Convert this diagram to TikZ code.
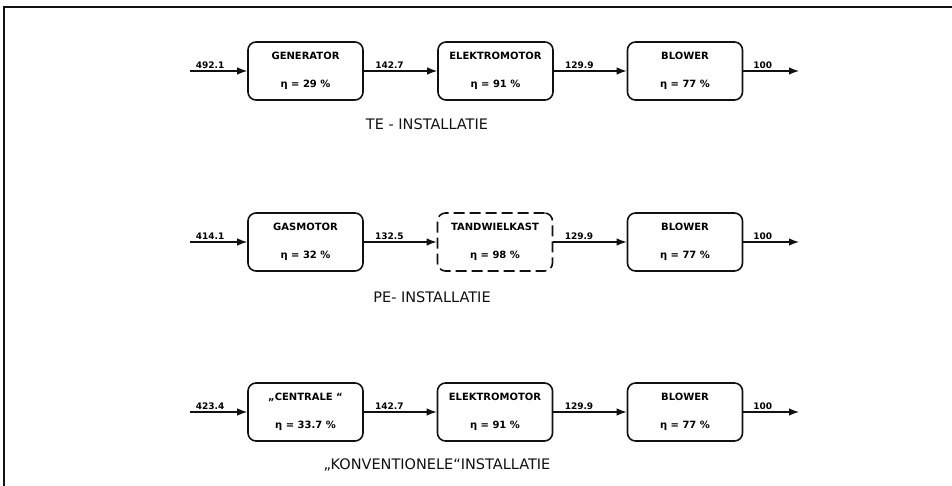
\documentclass[tikz,border=0pt]{standalone}
\usepackage{fontspec}
\setmainfont{DejaVu Sans}
\usetikzlibrary{arrows.meta,positioning}
\definecolor{ink}{HTML}{111111}
\tikzset{
  frame/.style={line width=1.4pt, draw=ink},
  unit/.style={
    rounded corners=8pt,
    draw=ink,
    line width=1.6pt,
    minimum width=115pt,
    minimum height=58pt,
    align=center,
    font=\fontsize{10}{28}\selectfont\bfseries,
    inner sep=2pt
  },
  gearbox/.style={unit, dash pattern=on 11pt off 5pt},
  flow/.style={line width=1.3pt, draw=ink, -{Latex[length=10pt,width=7.5pt]}},
  flowLabel/.style={font=\fontsize{9}{10}\selectfont\bfseries, above, pos=0.35, inner sep=1.5pt},
  plantLabel/.style={font=\fontsize{14.5}{16}\selectfont, text=ink}
}
\newcommand{\effline}[1]{η = #1 \%}

\begin{document}
\begin{tikzpicture}[x=1pt,y=-1pt]
\path[use as bounding box] (0,0) rectangle (952,486);
\draw[frame] (952,7) -- (4,7) -- (4,486);

% TE installatie
\coordinate (teIn) at (190,71);
\node[unit] (teGen) at (305.5,71) {GENERATOR\\\effline{29}};
\node[unit] (teMot) at (495.5,71) {ELEKTROMOTOR\\\effline{91}};
\node[unit] (teBlow) at (685,71) {BLOWER\\\effline{77}};
\coordinate (teOut) at (799,71);
\draw[flow] (teIn) -- node[flowLabel] {492.1} (teGen);
\draw[flow] (teGen) -- node[flowLabel] {142.7} (teMot);
\draw[flow] (teMot) -- node[flowLabel] {129.9} (teBlow);
\draw[flow] (teBlow) -- node[flowLabel] {100} (teOut);
\node[plantLabel] (teName) at (427,124) {TE - INSTALLATIE};

% PE installatie
\coordinate (peIn) at (190,242);
\node[unit] (peGas) at (305.5,242) {GASMOTOR\\\effline{32}};
\node[gearbox] (peGear) at (495,242) {TANDWIELKAST\\\effline{98}};
\node[unit] (peBlow) at (685,242) {BLOWER\\\effline{77}};
\coordinate (peOut) at (799,242);
\draw[flow] (peIn) -- node[flowLabel] {414.1} (peGas);
\draw[flow] (peGas) -- node[flowLabel] {132.5} (peGear);
\draw[flow] (peGear) -- node[flowLabel] {129.9} (peBlow);
\draw[flow] (peBlow) -- node[flowLabel] {100} (peOut);
\node[plantLabel] (peName) at (432,297) {PE- INSTALLATIE};

% konventionele installatie
\coordinate (koIn) at (190,412);
\node[unit] (koCent) at (305.5,412) {„CENTRALE “\\\effline{33.7}};
\node[unit] (koMot) at (495,412) {ELEKTROMOTOR\\\effline{91}};
\node[unit] (koBlow) at (685,412) {BLOWER\\\effline{77}};
\coordinate (koOut) at (799,412);
\draw[flow] (koIn) -- node[flowLabel] {423.4} (koCent);
\draw[flow] (koCent) -- node[flowLabel] {142.7} (koMot);
\draw[flow] (koMot) -- node[flowLabel] {129.9} (koBlow);
\draw[flow] (koBlow) -- node[flowLabel] {100} (koOut);
\node[plantLabel] (koName) at (437,465) {„KONVENTIONELE“INSTALLATIE};
\end{tikzpicture}
\end{document}
